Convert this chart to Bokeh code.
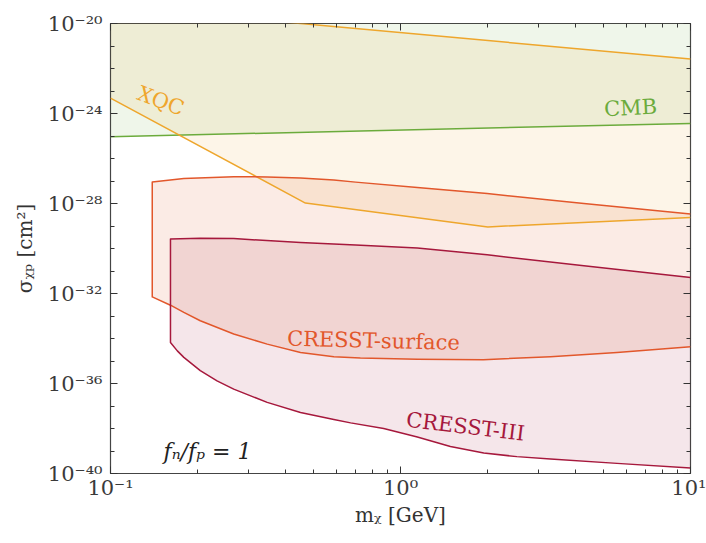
import numpy as np
from bokeh.plotting import figure
from bokeh.models import FixedTicker, CustomJSTickFormatter, LogAxis
from bokeh.core.properties import value
from bokeh.embed import file_html
from bokeh.resources import INLINE

# ---------------- data (mass in GeV, log10 of cross section in cm^2) ----------------
x_ticks = [0.1, 1.0, 10.0]
x_minor = [0.2, 0.3, 0.4, 0.5, 0.6, 0.7, 0.8, 0.9, 2, 3, 4, 5, 6, 7, 8, 9]
y_ticks = [1e-40, 1e-36, 1e-32, 1e-28, 1e-24, 1e-20]
y_minor = [1e-39, 1e-38, 1e-37, 1e-35, 1e-34, 1e-33, 1e-31, 1e-30, 1e-29,
           1e-27, 1e-26, 1e-25, 1e-23, 1e-22, 1e-21]

cmb_m = [0.1, 10.0]
cmb_logs = [-25.03, -24.44]

xqc_low_m = [0.1, 0.47, 2.0, 10.0]
xqc_low_logs = [-23.32, -27.98, -29.04, -28.62]
xqc_up_m = [0.1, 10.0]
xqc_up_logs = [-19.23, -21.58]

surf_up_m = [0.1393, 0.179, 0.266, 0.347, 0.452, 0.589, 0.70, 1.143, 1.99, 4.29, 10.0]
surf_up_logs = [-27.04, -26.89, -26.81, -26.82, -26.87, -26.96, -27.05, -27.29,
                -27.56, -28.0, -28.47]
surf_low_m = [0.1393, 0.161, 0.179, 0.204, 0.266, 0.347, 0.452, 0.589, 0.727,
              1.143, 1.93, 3.29, 5.58, 10.0]
surf_low_logs = [-32.15, -32.52, -32.84, -33.21, -33.80, -34.25, -34.62, -34.81,
                 -34.87, -34.92, -34.94, -34.81, -34.62, -34.37]

c3_up_m = [0.161, 0.204, 0.266, 0.452, 0.70, 1.143, 1.99, 4.29, 10.0]
c3_up_logs = [-29.58, -29.54, -29.56, -29.73, -29.84, -29.98, -30.28, -30.77, -31.29]
c3_low_m = [0.161, 0.170, 0.179, 0.204, 0.233, 0.266, 0.347, 0.452, 0.589, 0.673,
            0.875, 1.143, 1.486, 1.937, 2.52, 3.29, 5.58, 10.0]
c3_low_logs = [-34.18, -34.55, -34.84, -35.43, -35.88, -36.25, -36.84, -37.29,
               -37.60, -37.75, -38.00, -38.38, -38.80, -39.09, -39.25, -39.36,
               -39.55, -39.76]

labels = ["XQC", "CMB", "CRESST-surface", "CRESST-III"]
label_m = [0.149, 6.21, 0.807, 1.675]
label_logs = [-23.44, -23.75, -34.1, -37.92]

# ---------------- styles ----------------
C_CMB = "#6bab3c"
C_XQC = "#eea62c"
C_SURF = "#e2572b"
C_C3 = "#a6183c"
FONT = "DejaVu Serif"


def s(logs):
    return list(np.power(10.0, np.array(logs)))


p = figure(width=706, height=543, x_axis_type="log", y_axis_type="log",
           x_range=(0.1, 10), y_range=(1e-40, 1e-20),
           output_backend="svg", toolbar_location=None,
           min_border_left=110, min_border_right=16, min_border_top=23,
           min_border_bottom=70)
p.background_fill_color = "white"
p.border_fill_color = "white"
p.grid.visible = False
p.outline_line_color = "#444444"
p.outline_line_width = 1.2

# ---- fills ----
top = 1e-20
p.patch(cmb_m + cmb_m[::-1], s(cmb_logs) + [top, top],
        fill_color=C_CMB, fill_alpha=0.11, line_color=None)
p.patch(xqc_low_m + xqc_up_m[::-1], s(xqc_low_logs) + s(xqc_up_logs)[::-1],
        fill_color=C_XQC, fill_alpha=0.11, line_color=None)
p.patch(surf_up_m + surf_low_m[::-1], s(surf_up_logs) + s(surf_low_logs)[::-1],
        fill_color=C_SURF, fill_alpha=0.12, line_color=None)
p.patch(c3_up_m + c3_low_m[::-1], s(c3_up_logs) + s(c3_low_logs)[::-1],
        fill_color=C_C3, fill_alpha=0.11, line_color=None)

# ---- boundary lines ----
p.line(cmb_m, s(cmb_logs), line_color=C_CMB, line_width=1.5)
p.line(xqc_low_m, s(xqc_low_logs), line_color=C_XQC, line_width=1.5)
p.line(xqc_up_m, s(xqc_up_logs), line_color=C_XQC, line_width=1.5)
p.line(surf_up_m[::-1] + surf_low_m, s(surf_up_logs)[::-1] + s(surf_low_logs),
       line_color=C_SURF, line_width=1.5, line_join="round")
p.line(c3_up_m[::-1] + c3_low_m, s(c3_up_logs)[::-1] + s(c3_low_logs),
       line_color=C_C3, line_width=1.5, line_join="round")

# ---- labels ----
angles = [-0.36, 0.05, -0.025, -0.12]
colors = [C_XQC, C_CMB, C_SURF, C_C3]
for i in range(len(labels)):
    p.text(x=[label_m[i]], y=[10.0 ** label_logs[i]], text=[labels[i]],
           angle=angles[i], text_align="center", text_baseline="middle",
           text_font=value(FONT), text_font_size="21px", text_color=colors[i])

p.text(x=[0.1524], y=[10.0 ** -39.04], text=["fₙ/fₚ = 1"],
       text_align="left", text_baseline="middle",
       text_font=value(FONT), text_font_size="22px", text_color="#222222",
       text_font_style="italic")

# ---- axes ----
fmt = CustomJSTickFormatter(code="""
const sup = {"-":"\u207b","0":"\u2070","1":"\u00b9","2":"\u00b2","3":"\u00b3",
             "4":"\u2074","5":"\u2075","6":"\u2076","7":"\u2077","8":"\u2078","9":"\u2079"};
const e = Math.round(Math.log10(tick));
return "10" + String(e).split("").map(c => sup[c]).join("");
""")
blank = CustomJSTickFormatter(code='return "";')

xt = FixedTicker(ticks=x_ticks, minor_ticks=x_minor)
yt = FixedTicker(ticks=y_ticks, minor_ticks=y_minor)


def style_axis(ax):
    ax.axis_line_color = None
    ax.major_tick_in = 7
    ax.major_tick_out = 0
    ax.minor_tick_in = 4
    ax.minor_tick_out = 0
    ax.major_tick_line_color = "#333333"
    ax.minor_tick_line_color = "#333333"
    ax.major_label_text_font = FONT
    ax.major_label_text_font_size = "21px"
    ax.major_label_text_color = "#3a3a3a"
    ax.axis_label_text_font = FONT
    ax.axis_label_text_font_size = "20px"
    ax.axis_label_text_font_style = "normal"
    ax.axis_label_text_color = "#333333"


p.xaxis.ticker = xt
p.yaxis.ticker = yt
p.xaxis.formatter = fmt
p.yaxis.formatter = fmt
p.xaxis.axis_label = "mᵪ [GeV]"
p.yaxis.axis_label = "σᵪₚ [cm²]"
style_axis(p.xaxis[0])
style_axis(p.yaxis[0])
p.xaxis.major_label_standoff = 2
p.yaxis.major_label_standoff = 8
p.xaxis.axis_label_standoff = 0
p.yaxis.axis_label_standoff = 8

ax_r = LogAxis(ticker=FixedTicker(ticks=y_ticks, minor_ticks=y_minor), formatter=blank)
ax_t = LogAxis(ticker=FixedTicker(ticks=x_ticks, minor_ticks=x_minor), formatter=blank)
style_axis(ax_r)
style_axis(ax_t)
ax_r.major_label_text_font_size = "1px"
ax_t.major_label_text_font_size = "1px"
ax_r.major_label_standoff = 0
ax_t.major_label_standoff = 0
p.add_layout(ax_r, "right")
p.add_layout(ax_t, "above")

open("out.html", "w").write(file_html(p, INLINE))
